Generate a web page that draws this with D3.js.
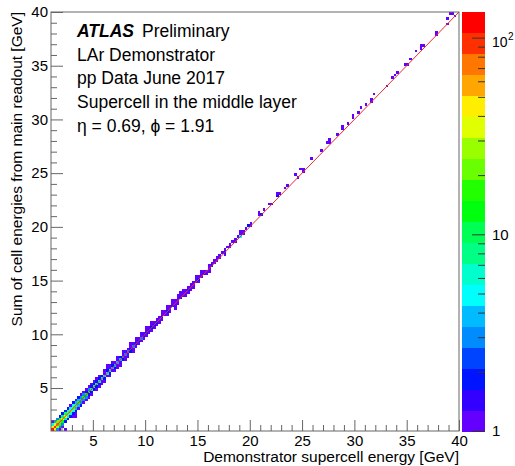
<!DOCTYPE html>
<html>
<head>
<meta charset="utf-8">
<script src="https://cdn.jsdelivr.net/npm/d3@7"></script>
<style>
  html, body { margin: 0; padding: 0; background: #fff; overflow: hidden; }
  svg { display: block; }
  text { font-family: "Liberation Sans", Arial, sans-serif; fill: #000; }
</style>
</head>
<body>
<div id="chart"></div>
<script>
// bin width of the 2D histogram (GeV)
const binWidth = 0.25;

// cells: [x bin low edge, y bin low edge, entries]
const cellsLow = [
  [1.0,1.0,135],[1.0,1.25,45],[1.0,1.5,6],[1.0,1.75,1],
  [1.25,1.0,40],[1.25,1.25,105],[1.25,1.5,35],[1.25,1.75,4],
  [1.5,1.0,3],[1.5,1.25,25],[1.5,1.5,80],[1.5,1.75,24],[1.5,2.0,3],
  [1.75,1.0,1],[1.75,1.25,3],[1.75,1.5,18],[1.75,1.75,60],[1.75,2.0,16],[1.75,2.25,2],
  [2.0,1.25,1],[2.0,1.5,3],[2.0,1.75,12],[2.0,2.0,45],[2.0,2.25,11],[2.0,2.5,2],
  [2.25,1.0,1],[2.25,1.75,2],[2.25,2.0,9],[2.25,2.25,36],[2.25,2.5,8],[2.25,2.75,2],
  [2.5,2.0,2],[2.5,2.25,7],[2.5,2.5,30],[2.5,2.75,7],[2.5,3.0,2],
  [2.75,2.25,2],[2.75,2.5,6],[2.75,2.75,25],[2.75,3.0,5],[2.75,3.25,1],
  [3.0,2.25,1],[3.0,2.5,2],[3.0,2.75,5],[3.0,3.0,22],[3.0,3.25,5],[3.0,3.5,2],
  [3.25,2.25,1],[3.25,2.5,1],[3.25,2.75,2],[3.25,3.0,4],[3.25,3.25,19],[3.25,3.5,4],[3.25,3.75,1],
  [3.5,3.0,1],[3.5,3.25,4],[3.5,3.5,16],[3.5,3.75,4],[3.5,4.0,2],
  [3.75,3.25,2],[3.75,3.5,3],[3.75,3.75,14],[3.75,4.0,3],[3.75,4.25,1],
  [4.0,3.5,1],[4.0,3.75,3],[4.0,4.0,13],[4.0,4.25,3],[4.0,4.5,1],
  [4.25,3.75,1],[4.25,4.0,3],[4.25,4.25,12],[4.25,4.5,2],[4.25,4.75,1],
  [4.5,4.0,1],[4.5,4.25,2],[4.5,4.5,10],[4.5,4.75,3],[4.5,5.0,1],
  [4.75,4.25,1],[4.75,4.5,2],[4.75,4.75,9],[4.75,5.0,2],[4.75,5.25,1]
];

const cellsMid = [
  [5.0,4.75,2],[5.0,5.0,8],[5.0,5.25,2],[5.0,5.5,1],
  [5.25,4.75,1],[5.25,5.0,2],[5.25,5.25,7],[5.25,5.5,2],[5.25,5.75,1],
  [5.5,5.0,1],[5.5,5.25,2],[5.5,5.5,6],[5.5,5.75,2],[5.5,6.0,1],
  [5.75,5.25,1],[5.75,5.5,1],[5.75,5.75,6],[5.75,6.0,2],
  [6.0,5.5,1],[6.0,5.75,2],[6.0,6.0,5],[6.0,6.25,1],[6.0,6.5,1],
  [6.25,6.0,1],[6.25,6.25,5],[6.25,6.5,2],[6.25,6.75,1],[6.25,7.0,1],
  [6.5,6.0,1],[6.5,6.25,2],[6.5,6.5,5],[6.5,6.75,1],[6.5,7.0,1],
  [6.75,6.5,1],[6.75,6.75,4],[6.75,7.0,2],[6.75,7.25,1],
  [7.0,6.5,1],[7.0,6.75,2],[7.0,7.0,4],[7.0,7.25,1],
  [7.25,6.75,1],[7.25,7.0,1],[7.25,7.25,4],[7.25,7.5,1],[7.25,7.75,1],
  [7.5,7.0,1],[7.5,7.25,1],[7.5,7.5,4],[7.5,7.75,2],
  [7.75,7.5,2],[7.75,7.75,3],[7.75,8.0,1],[7.75,8.25,1],
  [8.0,7.5,1],[8.0,7.75,1],[8.0,8.0,3],[8.0,8.25,1],
  [8.25,7.75,1],[8.25,8.0,1],[8.25,8.25,3],[8.25,8.5,1],
  [8.5,8.25,2],[8.5,8.5,2],[8.5,8.75,1],[8.5,9.0,1],
  [8.75,8.25,1],[8.75,8.5,1],[8.75,8.75,3],[8.75,9.0,1],
  [9.0,8.75,1],[9.0,9.0,2],[9.0,9.25,1],[9.0,9.5,1],
  [9.25,9.0,1],[9.25,9.25,2],[9.25,9.5,1],
  [9.5,9.25,1],[9.5,9.5,3],[9.5,9.75,1],[9.5,10.0,1],
  [9.75,9.5,1],[9.75,9.75,2],[9.75,10.0,1],
  [10.0,9.75,1],[10.0,10.0,2],[10.0,10.25,1],[10.0,10.5,1],
  [10.25,10.0,1],[10.25,10.25,2],[10.25,10.5,1],
  [10.5,10.25,1],[10.5,10.5,2],[10.5,10.75,1],[10.5,11.0,1],
  [10.75,10.5,1],[10.75,10.75,2],[10.75,11.0,1],
  [11.0,10.75,1],[11.0,11.0,2],[11.0,11.25,1],
  [11.25,11.0,1],[11.25,11.25,1],[11.25,11.5,1],
  [11.5,11.25,1],[11.5,11.5,2],[11.5,11.75,1],[11.5,12.0,1],
  [11.75,11.75,1],[11.75,12.0,1],
  [12.0,11.75,1],[12.0,12.0,2],[12.0,12.25,1],[12.0,12.5,1],
  [12.25,12.0,1],[12.25,12.25,1],[12.25,12.5,1],
  [12.5,12.5,2],[12.5,12.75,1],[12.5,13.0,1],
  [12.75,12.25,1],[12.75,12.5,1],[12.75,12.75,1],[12.75,13.0,1],
  [13.0,12.75,1],[13.0,13.0,1],[13.0,13.25,1],[13.0,13.5,1],
  [13.25,13.25,2],[13.25,13.5,1],[13.25,13.75,1],
  [13.5,13.5,1],[13.5,13.75,1],[13.5,14.0,1],
  [13.75,13.5,1],[13.75,13.75,1],[13.75,14.0,1],
  [14.0,13.75,1],[14.0,14.0,2],[14.0,14.25,1],
  [14.25,14.0,1],[14.25,14.25,1],[14.25,14.5,1],
  [14.5,14.25,1],[14.5,14.5,1],[14.5,14.75,1],
  [14.75,14.75,1],[14.75,15.0,1],[14.75,15.25,1]
];

const cellsHigh = [
  [15.0,14.75,1],[15.0,15.0,2],[15.0,15.25,1],
  [15.25,15.25,1],[15.25,15.5,1],[15.25,15.75,1],
  [15.5,15.5,2],[15.5,15.75,1],[15.75,15.5,1],[15.75,15.75,1],
  [16.0,15.75,1],[16.0,16.0,1],[16.0,16.25,1],
  [16.25,16.25,2],[16.25,16.5,1],[16.5,16.5,1],[16.5,16.75,1],
  [16.75,16.75,1],[16.75,17.0,1],[17.0,17.0,1],[17.0,17.25,1],
  [17.25,17.5,1],[17.5,17.25,1],[17.5,17.5,2],[17.5,17.75,1],
  [17.75,18.0,1],[18.0,18.0,1],[18.0,18.25,1],[18.25,18.5,1],
  [18.5,18.5,1],[18.5,18.75,1],[18.75,19.0,1],
  [19.0,19.0,5],[19.0,19.25,1],[19.0,19.5,1],
  [19.25,19.25,1],[19.25,19.5,1],[19.5,19.75,1],
  [19.75,20.0,2],[20.0,20.25,1],[20.0,20.0,1],
  [20.75,21.0,1],[20.75,21.25,1],[21.0,21.0,2],[21.25,21.5,1],
  [21.75,22.0,1],[22.0,22.0,1],[22.5,22.75,2],[22.5,23.0,1],[22.75,23.0,1],
  [23.25,23.5,1],[23.5,23.75,1],[24.25,24.75,1],[24.5,24.5,1],
  [24.75,25.25,1],[25.0,25.0,1],[25.0,25.25,1],[25.75,26.25,1],
  [26.75,27.0,1],[27.25,27.75,1],[27.5,27.75,1],[27.5,28.0,1],
  [28.25,28.5,1],[28.75,29.0,1],[28.75,29.25,1],[29.25,29.5,1],
  [29.75,30.0,1],[29.75,30.25,1],[30.25,30.5,1],[30.5,31.0,1],
  [31.0,31.25,1],[31.5,31.5,1],[31.5,31.75,1],[31.75,32.25,1],
  [33.0,33.0,1],[33.5,33.75,1],[33.75,34.0,1],[34.0,34.25,1],
  [34.75,35.0,1],[35.0,35.0,1],[35.25,35.5,1],[35.75,36.25,1],
  [36.25,36.5,1],[36.25,36.75,1],[36.5,36.75,1],
  [37.75,37.75,1],[37.75,38.0,1],[38.75,38.75,1],[38.75,39.25,1],
  [39.0,39.75,1],[39.25,39.75,1],[39.5,39.5,1]
];

const axisRange = [1, 40];
const majorTicks = [5, 10, 15, 20, 25, 30, 35, 40];
const minorTicks = [2, 3, 4, 6, 7, 8, 9, 11, 12, 13, 14, 16, 17, 18, 19, 21, 22, 23, 24,
  26, 27, 28, 29, 31, 32, 33, 34, 36, 37, 38, 39];
const zMax = 135;
const zMajor = [1, 10, 100];
const zMinor = [2, 3, 4, 5, 6, 7, 8, 9, 20, 30, 40, 50, 60, 70, 80, 90];
const textLines = ['LAr Demonstrator', 'pp Data June 2017', 'Supercell in the middle layer', 'η = 0.69, ϕ = 1.91'];

const width = 515, height = 466;
const margin = { top: 12, right: 56, bottom: 35, left: 51 };
const innerWidth = width - margin.left - margin.right;   // 408
const innerHeight = height - margin.top - margin.bottom; // 419

const svg = d3.select('#chart').append('svg')
  .attr('width', width).attr('height', height);

const xScale = d3.scaleLinear().domain(axisRange).range([0, innerWidth]);
const yScale = d3.scaleLinear().domain(axisRange).range([innerHeight, 0]);
const zScale = d3.scaleLog().domain([1, zMax]).range([innerHeight, 0]);

// ROOT "pretty" palette, 20 contour levels on a log z axis
const nLevels = 20;
const logMax = Math.log10(zMax);
function levelColor(k) {
  const j = Math.floor((k + 0.99) * 50 / nLevels);
  if (j >= 49) return 'rgb(255,0,0)';
  return d3.hsl(280 - (j + 1) * 5.6, 1, 0.5).toString();
}
function cellColor(n) {
  let k = Math.floor(Math.log10(n) / logMax * nLevels);
  k = Math.max(0, Math.min(nLevels - 1, k));
  return levelColor(k);
}

const plot = svg.append('g').attr('transform', `translate(${margin.left},${margin.top})`);

const cells = cellsLow.concat(cellsMid, cellsHigh);
plot.append('g').selectAll('rect')
  .data(cells)
  .enter()
  .append('rect')
  .attr('x', d => xScale(d[0]))
  .attr('y', d => yScale(d[1] + binWidth))
  .attr('width', d => xScale(d[0] + binWidth) - xScale(d[0]))
  .attr('height', d => yScale(d[1]) - yScale(d[1] + binWidth))
  .attr('fill', d => cellColor(d[2]))
  .attr('shape-rendering', 'crispEdges');

// y = x reference line
plot.append('line')
  .attr('x1', xScale(axisRange[0])).attr('y1', yScale(axisRange[0]))
  .attr('x2', xScale(axisRange[1])).attr('y2', yScale(axisRange[1]))
  .attr('stroke', '#ee2a2a').attr('stroke-width', 1);

// frame
plot.append('rect')
  .attr('width', innerWidth).attr('height', innerHeight)
  .attr('fill', 'none').attr('stroke', '#666').attr('stroke-width', 1);

// x axis
const xMajor = plot.append('g').attr('transform', `translate(0,${innerHeight})`)
  .call(d3.axisBottom(xScale).tickValues(majorTicks).tickSize(-11).tickPadding(4));
const xMinor = plot.append('g').attr('transform', `translate(0,${innerHeight})`)
  .call(d3.axisBottom(xScale).tickValues(minorTicks).tickSize(-6));
xMinor.selectAll('text').remove();

// y axis
const yMajor = plot.append('g')
  .call(d3.axisLeft(yScale).tickValues(majorTicks).tickSize(-12).tickPadding(3));
const yMinor = plot.append('g')
  .call(d3.axisLeft(yScale).tickValues(minorTicks).tickSize(-6));
yMinor.selectAll('text').remove();

plot.selectAll('.domain').remove();
plot.selectAll('.tick line').attr('stroke', '#666');
xMajor.selectAll('text').attr('font-size', 15).attr('fill', '#000')
  .attr('font-family', '"Liberation Sans", Arial, sans-serif');
yMajor.selectAll('text').attr('font-size', 15).attr('fill', '#000')
  .attr('font-family', '"Liberation Sans", Arial, sans-serif');

// axis titles
svg.append('text')
  .attr('x', margin.left + innerWidth).attr('y', 462)
  .attr('text-anchor', 'end').attr('font-size', 15.5)
  .text('Demonstrator supercell energy [GeV]');
svg.append('text')
  .attr('transform', `translate(22,${margin.top}) rotate(-90)`)
  .attr('text-anchor', 'end').attr('font-size', 15.5)
  .text('Sum of cell energies from main readout [GeV]');

// colour bar
const barX = 462, barW = 23;
const bar = svg.append('g').attr('transform', `translate(${barX},${margin.top})`);
bar.selectAll('rect')
  .data(d3.range(nLevels))
  .enter()
  .append('rect')
  .attr('x', 0)
  .attr('y', k => zScale(Math.pow(10, (k + 1) * logMax / nLevels)))
  .attr('width', barW)
  .attr('height', k => zScale(Math.pow(10, k * logMax / nLevels)) - zScale(Math.pow(10, (k + 1) * logMax / nLevels)) + 0.5)
  .attr('fill', k => levelColor(k))
  .attr('shape-rendering', 'crispEdges');

const zTicksG = bar.append('g').attr('transform', `translate(${barW},0)`);
zTicksG.append('g').call(d3.axisRight(zScale).tickValues(zMajor).tickSize(-13));
zTicksG.append('g').call(d3.axisRight(zScale).tickValues(zMinor).tickSize(-7));
zTicksG.selectAll('text').remove();
zTicksG.selectAll('.domain').remove();
zTicksG.selectAll('.tick line').attr('stroke', '#333');

// colour bar labels: 1, 10, 10^2
zMajor.forEach(v => {
  const y = zScale(v);
  if (v === 100) {
    const t = bar.append('text').attr('x', barW + 7).attr('y', y + 9)
      .attr('font-size', 14).text('10');
    bar.append('text').attr('x', barW + 7 + t.node().getComputedTextLength() + 0.5).attr('y', y + 2)
      .attr('font-size', 10).text('2');
  } else {
    bar.append('text').attr('x', barW + 7).attr('y', y).attr('dy', '0.36em')
      .attr('font-size', 15).text(v);
  }
});

// labels in the plot
svg.append('text').attr('x', 77).attr('y', 37)
  .attr('font-size', 17.5).attr('font-weight', 'bold').attr('font-style', 'italic')
  .text('ATLAS');
svg.append('text').attr('x', 142).attr('y', 37)
  .attr('font-size', 17.5).text('Preliminary');
textLines.forEach((s, i) => {
  svg.append('text').attr('x', 77).attr('y', 60.5 + i * 23.7)
    .attr('font-size', 17.5).text(s);
});
</script>
</body>
</html>
